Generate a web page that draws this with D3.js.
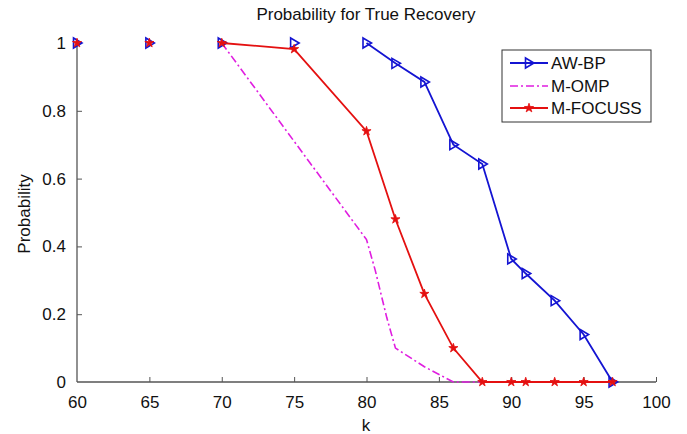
<!DOCTYPE html>
<html><head><meta charset="utf-8">
<script src="https://cdn.jsdelivr.net/npm/d3@7/dist/d3.min.js"></script>
<style>body{margin:0;background:#fff}svg{display:block;font-family:"Liberation Sans",Arial,sans-serif}</style>
</head><body>
<svg id="c" width="687" height="434"></svg>
<script>
const kValues   = [60, 65, 70, 75, 80, 82, 84, 86, 88, 90, 91, 93, 95, 97];
const awbp      = [1, 1, 1, 1, 1, 0.94, 0.885, 0.70, 0.643, 0.363, 0.32, 0.24, 0.14, 0];
const mfocuss   = [1, 1, 1, 0.982, 0.74, 0.48, 0.26, 0.10, 0, 0, 0, 0, 0, 0];
const ompK      = [70, 80, 80.6, 81.4, 82, 84, 86, 88, 90, 93, 95, 97];
const omp       = [1, 0.42, 0.33, 0.19, 0.10, 0.045, 0, 0, 0, 0, 0, 0];
const awbpLineFrom = 80;
const focussLineFrom = 70;
const xTicks = [60, 65, 70, 75, 80, 85, 90, 95, 100];
const yTicks = [0, 0.2, 0.4, 0.6, 0.8, 1];
const seriesNames = ["AW-BP", "M-OMP", "M-FOCUSS"];

const svg = d3.select("#c");
const x = d3.scaleLinear().domain([60, 100]).range([77, 656]);
const y = d3.scaleLinear().domain([0, 1]).range([382, 43]);
const axisColor = "#555";
const FS = 17;

// axes
const gx = svg.append("g").attr("transform", `translate(0,${y(0)})`)
  .call(d3.axisBottom(x).tickValues(xTicks).tickSize(-5).tickPadding(14).tickFormat(d3.format("d")));
const gy = svg.append("g").attr("transform", `translate(${x(60)},0)`)
  .call(d3.axisLeft(y).tickValues(yTicks).tickSize(-5).tickPadding(11).tickFormat(d => d === 0 || d === 1 ? d : d3.format(".1f")(d)));
[gx, gy].forEach(g => {
  g.select(".domain").attr("stroke", axisColor).attr("stroke-width", 1.3);
  g.selectAll(".tick line").attr("stroke", axisColor).attr("stroke-width", 1);
  g.selectAll("text").attr("font-size", FS).attr("fill", "#111").attr("font-family", "Liberation Sans, Arial, sans-serif");
});
gx.select(".domain").attr("d", `M${x(60)},0H${x(100)}`);
gy.select(".domain").attr("d", `M0,${y(0)}V${y(1)}`);
gy.selectAll(".tick").filter(d => d === 0).select("line").remove();
gx.selectAll(".tick").filter(d => d === 60).select("line").remove();

svg.append("text").attr("x", 366).attr("y", 20).attr("text-anchor", "middle")
  .attr("font-size", FS).attr("fill", "#111").text("Probability for True Recovery");
svg.append("text").attr("x", 366).attr("y", 431).attr("text-anchor", "middle")
  .attr("font-size", FS).attr("fill", "#111").text("k");
svg.append("text").attr("transform", "translate(30,214) rotate(-90)").attr("text-anchor", "middle")
  .attr("font-size", FS).attr("fill", "#111").text("Probability");

const blue = "#1414d2", mag = "#e01ee0", red = "#e41010";
const line = d3.line().x(d => x(d[0])).y(d => y(d[1]));

const bluePts = kValues.map((k, i) => [k, awbp[i]]);
const redPts = kValues.map((k, i) => [k, mfocuss[i]]);
const ompPts = ompK.map((k, i) => [k, omp[i]]);

// M-OMP
svg.append("path").attr("d", line(ompPts)).attr("fill", "none").attr("stroke", mag)
  .attr("stroke-width", 1.6).attr("stroke-dasharray", "8,3,2,3");

// AW-BP
svg.append("path").attr("d", line(bluePts.filter(p => p[0] >= awbpLineFrom)))
  .attr("fill", "none").attr("stroke", blue).attr("stroke-width", 1.8);
const tri = "M-3.5,-5L5,0L-3.5,5Z";
svg.append("g").selectAll("path").data(bluePts).join("path")
  .attr("transform", d => `translate(${x(d[0])},${y(d[1])})`)
  .attr("d", tri).attr("fill", "none").attr("stroke", blue).attr("stroke-width", 1.6);

// M-FOCUSS
svg.append("path").attr("d", line(redPts.filter(p => p[0] >= focussLineFrom)))
  .attr("fill", "none").attr("stroke", red).attr("stroke-width", 1.8);
const star = d3.symbol().type(d3.symbolStar).size(26);
svg.append("g").selectAll("path").data(redPts).join("path")
  .attr("transform", d => `translate(${x(d[0])},${y(d[1])})`)
  .attr("d", star).attr("fill", red).attr("stroke", red).attr("stroke-width", 0.8);

// legend
const lg = svg.append("g");
lg.append("rect").attr("x", 502).attr("y", 50).attr("width", 149).attr("height", 72)
  .attr("fill", "#fff").attr("stroke", "#333").attr("stroke-width", 1);
const legY = [63, 86, 108];
seriesNames.forEach((name, i) => {
  const yy = legY[i];
  const col = [blue, mag, red][i];
  const l = lg.append("line").attr("x1", 510).attr("x2", 548).attr("y1", yy).attr("y2", yy)
    .attr("stroke", col).attr("stroke-width", 1.8);
  if (i === 1) l.attr("stroke-dasharray", "8,3,2,3").attr("stroke-width", 1.6);
  if (i === 0) lg.append("path").attr("d", tri).attr("transform", `translate(529,${yy})`)
    .attr("fill", "none").attr("stroke", blue).attr("stroke-width", 1.6);
  if (i === 2) lg.append("path").attr("d", star).attr("transform", `translate(529,${yy})`)
    .attr("fill", red).attr("stroke", red).attr("stroke-width", 0.8);
  lg.append("text").attr("x", 551).attr("y", yy).attr("dy", "0.36em")
    .attr("font-size", FS).attr("fill", "#111").text(name);
});
</script>
</body></html>
